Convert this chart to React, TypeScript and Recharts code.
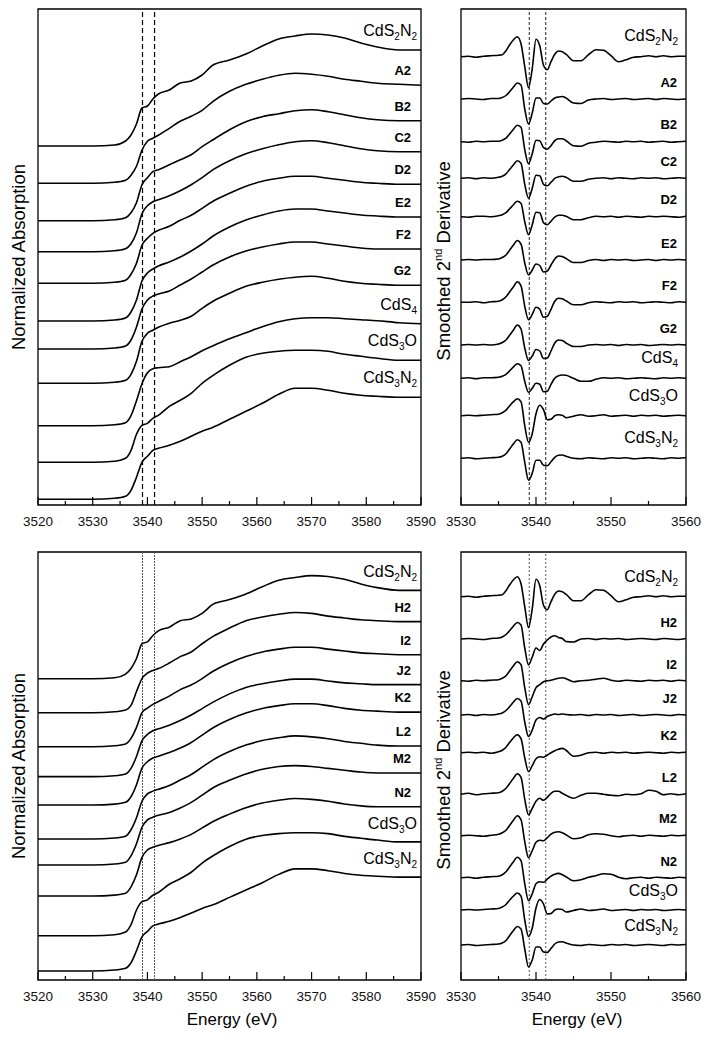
import React from 'react';
import { LineChart, Line, XAxis, YAxis, ReferenceLine, ReferenceArea, ReferenceDot } from 'recharts';

const FONT = '"Liberation Sans", Arial, Helvetica, sans-serif';

// ---- energy grids (eV) ----
const xanesEnergy = [3520, 3530, 3534, 3536, 3537, 3538, 3539, 3540, 3541, 3542, 3544, 3546, 3548, 3550, 3552, 3555, 3558, 3561, 3564, 3567, 3570, 3573, 3576, 3579, 3582, 3586, 3590];
const derivEnergy = [
  3530, 3531, 3532, 3533, 3534, 3535,
  3535.5, 3536, 3536.5, 3537, 3537.5, 3538, 3538.5, 3539, 3539.5, 3540, 3540.5, 3541, 3541.5, 3542, 3542.5, 3543, 3543.5,
  3544, 3545, 3546, 3547, 3548, 3549, 3550, 3551, 3552, 3553, 3554, 3555, 3556, 3557, 3558, 3559, 3560,
];

const xanesTicks = [3520, 3525, 3530, 3535, 3540, 3545, 3550, 3555, 3560, 3565, 3570, 3575, 3580, 3585, 3590];
const derivTicks = [3530, 3535, 3540, 3545, 3550, 3555, 3560];
const markerLines = [3539.1, 3541.3];

// ---- normalized absorption (XANES) ----
const xCdS2N2 = [0, 0, 0.01, 0.05, 0.11, 0.22, 0.38, 0.40, 0.47, 0.52, 0.56, 0.63, 0.65, 0.71, 0.81, 0.86, 0.92, 1.00, 1.07, 1.10, 1.12, 1.11, 1.08, 1.03, 0.99, 0.96, 0.96];
const xA2 = [0, 0, 0.01, 0.03, 0.08, 0.17, 0.33, 0.42, 0.45, 0.48, 0.55, 0.62, 0.67, 0.73, 0.82, 0.92, 0.99, 1.04, 1.08, 1.10, 1.09, 1.07, 1.04, 1.02, 1.00, 0.99, 0.98];
const xB2 = [0, 0, 0.01, 0.03, 0.08, 0.18, 0.36, 0.43, 0.49, 0.51, 0.56, 0.61, 0.66, 0.74, 0.81, 0.91, 0.99, 1.04, 1.07, 1.10, 1.11, 1.09, 1.06, 1.03, 1.01, 1.00, 1.00];
const xC2 = [0, 0, 0.01, 0.03, 0.08, 0.19, 0.38, 0.46, 0.50, 0.52, 0.56, 0.61, 0.67, 0.74, 0.82, 0.91, 0.98, 1.03, 1.07, 1.10, 1.11, 1.09, 1.06, 1.03, 1.01, 1.00, 1.00];
const xD2 = [0, 0, 0.01, 0.03, 0.09, 0.20, 0.38, 0.45, 0.50, 0.53, 0.57, 0.63, 0.68, 0.75, 0.82, 0.90, 0.97, 1.02, 1.05, 1.07, 1.07, 1.05, 1.03, 1.01, 1.00, 0.99, 0.99];
const xE2 = [0, 0, 0.01, 0.03, 0.09, 0.21, 0.40, 0.48, 0.52, 0.55, 0.59, 0.64, 0.70, 0.77, 0.85, 0.94, 1.01, 1.06, 1.10, 1.12, 1.12, 1.10, 1.08, 1.06, 1.05, 1.04, 1.04];
const xF2 = [0, 0, 0.01, 0.03, 0.09, 0.22, 0.40, 0.49, 0.53, 0.55, 0.58, 0.64, 0.70, 0.77, 0.84, 0.92, 0.98, 1.02, 1.05, 1.07, 1.07, 1.05, 1.03, 1.01, 1.00, 1.00, 1.00];
const xG2 = [0, 0, 0.01, 0.03, 0.09, 0.22, 0.42, 0.50, 0.53, 0.56, 0.60, 0.63, 0.67, 0.75, 0.82, 0.90, 0.97, 1.01, 1.04, 1.06, 1.07, 1.05, 1.02, 1.00, 0.99, 0.98, 0.98];
const xCdS4 = [0, 0, 0.01, 0.03, 0.10, 0.25, 0.42, 0.53, 0.57, 0.58, 0.59, 0.64, 0.69, 0.75, 0.80, 0.87, 0.93, 0.99, 1.04, 1.07, 1.08, 1.08, 1.07, 1.06, 1.05, 1.03, 1.02];
const xCdS3O = [0, 0, 0.01, 0.04, 0.12, 0.28, 0.37, 0.39, 0.44, 0.47, 0.56, 0.62, 0.69, 0.79, 0.87, 0.97, 1.05, 1.09, 1.11, 1.12, 1.12, 1.11, 1.08, 1.06, 1.04, 1.02, 1.02];
const xCdS3N2 = [0, 0, 0.01, 0.03, 0.09, 0.22, 0.37, 0.43, 0.49, 0.51, 0.54, 0.58, 0.63, 0.68, 0.72, 0.80, 0.88, 0.96, 1.05, 1.11, 1.11, 1.09, 1.06, 1.04, 1.03, 1.02, 1.02];
const xH2 = [0, 0, 0.01, 0.03, 0.08, 0.23, 0.37, 0.43, 0.46, 0.48, 0.54, 0.61, 0.66, 0.75, 0.83, 0.92, 1.00, 1.04, 1.07, 1.09, 1.08, 1.05, 1.03, 1.01, 1.00, 0.99, 0.99];
const xI2 = [0, 0, 0.01, 0.03, 0.09, 0.21, 0.37, 0.42, 0.46, 0.49, 0.55, 0.62, 0.67, 0.74, 0.82, 0.91, 0.98, 1.03, 1.06, 1.08, 1.08, 1.06, 1.04, 1.02, 1.01, 1.00, 1.00];
const xJ2 = [0, 0, 0.01, 0.03, 0.09, 0.22, 0.39, 0.46, 0.50, 0.52, 0.56, 0.61, 0.67, 0.74, 0.81, 0.90, 0.97, 1.01, 1.04, 1.06, 1.06, 1.04, 1.02, 1.01, 1.00, 1.00, 1.00];
const xK2 = [0, 0, 0.01, 0.03, 0.09, 0.22, 0.40, 0.47, 0.51, 0.53, 0.57, 0.62, 0.68, 0.76, 0.84, 0.93, 1.00, 1.05, 1.08, 1.10, 1.10, 1.08, 1.05, 1.03, 1.02, 1.01, 1.01];
const xL2 = [0, 0, 0.01, 0.03, 0.10, 0.23, 0.41, 0.49, 0.52, 0.54, 0.58, 0.64, 0.70, 0.78, 0.86, 0.95, 1.02, 1.07, 1.10, 1.12, 1.11, 1.09, 1.06, 1.04, 1.02, 1.01, 1.01];
const xM2 = [0, 0, 0.01, 0.03, 0.10, 0.23, 0.41, 0.49, 0.52, 0.54, 0.57, 0.62, 0.68, 0.76, 0.84, 0.92, 0.99, 1.04, 1.07, 1.08, 1.07, 1.05, 1.03, 1.01, 1.00, 1.00, 1.00];
const xN2 = [0, 0, 0.01, 0.03, 0.10, 0.23, 0.42, 0.50, 0.53, 0.55, 0.58, 0.62, 0.67, 0.74, 0.81, 0.89, 0.96, 1.01, 1.04, 1.06, 1.05, 1.03, 1.00, 0.98, 0.97, 0.97, 0.97];

// ---- smoothed 2nd derivative ----
const dCdS2N2 = [0, 0.05, -0.05, 0.05, 0.1, 0.15, 0.2, 0.6, 1.2, 1.7, 2.0, 1.3, -1.0, -3.1, -1.2, 1.75, 1.1, -0.85, -1.3, -0.5, 0.25, 0.57, 0.5, 0.25, -0.4, -0.4, 0.2, 0.7, 0.65, 0.1, -0.5, -0.3, -0.05, 0.0, 0.1, 0.0, 0.1, 0.0, 0.05, 0.05];
const dA2 = [0, 0.05, 0, -0.05, 0.05, 0.05, 0.15, 0.35, 0.75, 1.2, 1.6, 1.4, -1.0, -2.5, -1.4, 0.1, 0.1, -0.45, -0.5, -0.2, 0.1, 0.2, 0.25, 0.1, -0.4, -0.45, -0.1, 0, 0.05, -0.05, 0, 0.05, -0.05, 0, 0.05, -0.05, 0.05, 0, -0.05, 0];
const dB2 = [0, -0.05, 0.05, 0, 0.05, 0.05, 0.15, 0.35, 0.8, 1.25, 1.65, 1.45, -0.8, -2.2, -1.2, 0.15, 0.1, -0.6, -0.75, -0.4, 0.1, 0.3, 0.3, 0.1, -0.4, -0.45, -0.15, -0.05, 0.05, 0, -0.05, 0.05, 0, 0.05, -0.05, 0, 0.05, -0.05, 0, 0.05];
const dC2 = [0, 0.05, -0.05, 0.05, 0, 0.1, 0.2, 0.45, 0.9, 1.35, 1.75, 1.5, -0.6, -2.0, -1.0, 0.3, 0.25, -0.6, -0.75, -0.4, 0.0, 0.15, 0.2, 0.1, -0.3, -0.3, -0.1, 0, 0.05, -0.05, 0.05, 0, -0.05, 0.05, 0, 0.05, -0.05, 0, 0.05, 0];
const dD2 = [0, -0.05, 0.05, 0.05, 0, 0.1, 0.2, 0.4, 0.8, 1.2, 1.55, 1.35, -0.5, -1.8, -0.8, 0.45, 0.4, -0.6, -0.8, -0.45, -0.05, 0.15, 0.15, 0.05, -0.3, -0.3, -0.1, 0.05, 0, 0.05, -0.05, 0.05, 0, -0.05, 0.05, 0, 0.05, 0, -0.05, 0.05];
const dE2 = [0, 0.05, 0, 0.05, 0.05, 0.1, 0.25, 0.5, 1.0, 1.5, 1.95, 1.6, -0.3, -1.5, -1.0, -0.4, -0.55, -1.2, -1.1, -0.5, 0.1, 0.4, 0.35, 0.15, -0.25, -0.25, -0.05, 0.05, -0.05, 0.05, 0, 0.05, -0.05, 0, 0.05, -0.05, 0.05, 0, 0.05, 0];
const dF2 = [0, 0, 0.05, -0.05, 0.05, 0.1, 0.25, 0.55, 1.05, 1.55, 2.05, 1.65, -0.4, -1.75, -1.2, -0.5, -0.7, -1.5, -1.4, -0.7, 0.1, 0.4, 0.35, 0.15, -0.25, -0.25, -0.05, 0.05, 0, -0.05, 0.05, 0, 0.05, -0.05, 0, 0.05, 0, -0.05, 0.05, 0];
const dG2 = [0, 0.05, 0, 0.05, 0, 0.1, 0.25, 0.5, 1.0, 1.5, 2.0, 1.6, -0.3, -1.55, -1.1, -0.45, -0.6, -1.35, -1.3, -0.6, 0.2, 0.5, 0.45, 0.2, -0.15, -0.15, 0, 0.05, 0, 0.05, -0.05, 0.05, 0, 0.05, -0.05, 0, 0.05, 0, 0.05, 0];
const dCdS4 = [0, 0.05, -0.05, 0.05, 0.05, 0.1, 0.2, 0.4, 0.75, 1.15, 1.45, 1.25, -0.3, -1.4, -1.0, -0.5, -0.6, -1.35, -1.3, -0.6, 0.0, 0.25, 0.33, 0.3, 0.0, -0.3, -0.3, -0.1, 0.05, 0, 0.05, -0.05, 0, 0.05, 0, -0.05, 0.05, 0, 0.05, 0];
const dCdS3O = [0, 0.05, 0, 0.05, 0.1, 0.15, 0.3, 0.55, 1.0, 1.4, 1.7, 1.4, -1.0, -2.65, -1.8, 0.2, 1.05, 0.6, -0.4, -0.35, 0.0, 0.1, 0.05, -0.2, -0.05, 0.1, -0.05, 0.0, 0.1, -0.05, 0, 0.05, -0.05, 0.05, 0, 0.05, -0.05, 0, 0.05, 0];
const dCdS3N2 = [0, 0.05, -0.05, 0, 0.05, 0.1, 0.2, 0.45, 0.95, 1.45, 1.85, 1.6, -0.4, -2.2, -1.5, -0.2, -0.2, -0.7, -0.75, -0.35, 0.1, 0.3, 0.33, 0.2, 0.0, -0.05, 0.05, 0, -0.05, 0.05, 0, 0.05, -0.05, 0, 0.05, 0, -0.05, 0.05, 0, 0.05];
const dH2 = [0, 0.05, 0, -0.05, 0.05, 0.1, 0.2, 0.45, 0.85, 1.3, 1.65, 1.4, -0.9, -2.6, -1.8, -0.9, -1.15, -0.5, -0.1, 0.2, 0.33, 0.15, 0.05, -0.25, -0.3, 0.0, 0.05, -0.05, 0.05, 0, 0.05, -0.05, 0, 0.05, 0, -0.05, 0.05, 0, -0.05, 0.05];
const dI2 = [0, -0.05, 0.05, 0, 0.05, 0.1, 0.25, 0.5, 1.0, 1.5, 1.9, 1.6, -0.7, -2.4, -1.6, -0.7, -0.4, -0.1, 0.0, 0.05, 0.15, 0.25, 0.3, 0.2, -0.1, 0.0, 0.05, 0.15, 0.25, 0.05, -0.05, 0.05, 0, -0.05, 0.05, 0, 0.05, -0.05, 0.05, 0];
const dJ2 = [0, 0.05, -0.05, 0.05, 0, 0.1, 0.2, 0.45, 0.85, 1.3, 1.65, 1.4, -0.7, -2.15, -1.5, -0.5, -0.25, -0.4, -0.15, 0.0, 0.1, 0.05, 0.1, 0.05, 0.0, 0.05, -0.05, 0.05, 0, 0.05, -0.05, 0, 0.05, -0.05, 0, 0.05, 0, -0.05, 0.05, 0];
const dK2 = [0, 0.05, 0, 0.05, -0.05, 0.1, 0.25, 0.55, 1.05, 1.5, 1.8, 1.4, -0.5, -1.9, -1.3, -0.6, -0.4, -0.45, -0.25, 0.0, 0.2, 0.35, 0.43, 0.25, -0.35, -0.25, 0.0, 0.05, -0.05, 0.05, 0, 0.05, -0.05, 0, 0.05, 0, -0.05, 0.05, 0, 0.05];
const dL2 = [0, 0.1, -0.05, 0.05, 0.1, 0.15, 0.3, 0.6, 1.1, 1.6, 2.05, 1.7, -0.5, -2.05, -1.4, -0.7, -0.4, -0.6, -0.3, 0.1, 0.3, 0.3, 0.1, -0.1, -0.4, -0.1, 0.1, 0.1, 0.0, -0.1, -0.15, 0.0, -0.05, 0.05, 0.4, 0.3, -0.05, 0.05, -0.05, 0.05];
const dM2 = [0, 0.05, 0, -0.05, 0.05, 0.15, 0.3, 0.55, 1.05, 1.55, 2.0, 1.6, -0.6, -2.2, -1.5, -0.65, -0.45, -0.5, -0.2, 0.15, 0.35, 0.4, 0.3, 0.1, -0.3, -0.2, 0.1, 0.2, 0.15, 0.0, -0.1, 0.0, 0.05, -0.05, 0.05, 0, -0.05, 0.05, 0, 0.05];
const dN2 = [0, 0.05, -0.05, 0.05, 0.1, 0.15, 0.3, 0.6, 1.1, 1.6, 2.05, 1.7, -0.6, -2.3, -1.6, -0.6, -0.4, -0.45, -0.15, 0.15, 0.35, 0.43, 0.3, 0.1, -0.3, -0.2, 0.05, 0.2, 0.4, 0.35, 0.05, -0.1, 0.0, 0.05, -0.05, 0.05, 0, -0.05, 0.05, 0];

// ---- stacking (labels top to bottom) and vertical offsets ----
const topLabels = ['CdS2N2', 'A2', 'B2', 'C2', 'D2', 'E2', 'F2', 'G2', 'CdS4', 'CdS3O', 'CdS3N2'];
const bottomLabels = ['CdS2N2', 'H2', 'I2', 'J2', 'K2', 'L2', 'M2', 'N2', 'CdS3O', 'CdS3N2'];

const topXanes = [xCdS2N2, xA2, xB2, xC2, xD2, xE2, xF2, xG2, xCdS4, xCdS3O, xCdS3N2];
const topDeriv = [dCdS2N2, dA2, dB2, dC2, dD2, dE2, dF2, dG2, dCdS4, dCdS3O, dCdS3N2];
const bottomXanes = [xCdS2N2, xH2, xI2, xJ2, xK2, xL2, xM2, xN2, xCdS3O, xCdS3N2];
const bottomDeriv = [dCdS2N2, dH2, dI2, dJ2, dK2, dL2, dM2, dN2, dCdS3O, dCdS3N2];

const topXanesOffsets = [3.59, 3.217, 2.843, 2.533, 2.217, 1.84, 1.56, 1.217, 0.793, 0.427, 0.057];
const topDerivOffsets = [44.83, 40.6, 36.33, 32.67, 28.83, 24.5, 20.27, 16.0, 12.67, 8.93, 4.67];
const bottomXanesOffsets = [3.275, 2.905, 2.536, 2.21, 1.902, 1.533, 1.25, 0.913, 0.481, 0.098];
const bottomDerivOffsets = [38.33, 34.1, 29.93, 26.5, 22.73, 18.57, 14.43, 10.23, 7.0, 3.5];

const AXIS_H = 30;

function buildRows(energy: number[], series: number[][], offsets: number[]) {
  return energy.map((E, j) => {
    const row: Record<string, number> = { E };
    series.forEach((s, i) => {
      row['s' + i] = +(s[j] + offsets[i]).toFixed(4);
    });
    return row;
  });
}

function CurveLabel({ x, y, text }: { x: number; y: number; text: string }) {
  if (!text.startsWith('CdS')) {
    return (
      <text x={x} y={y} textAnchor="end" fontFamily={FONT} fontWeight="bold" fontSize={13} fill="#000">
        {text}
      </text>
    );
  }
  const parts = text.match(/[A-Za-z]+|\d+/g) || [];
  let shifted = false;
  return (
    <text x={x} y={y} textAnchor="end" fontFamily={FONT} fontSize={16} fill="#000">
      {parts.map((p, k) => {
        if (/\d/.test(p)) {
          shifted = true;
          return <tspan key={k} fontSize={10} dy={4}>{p}</tspan>;
        }
        const dy = shifted ? -4 : 0;
        shifted = false;
        return <tspan key={k} dy={dy}>{p}</tspan>;
      })}
    </text>
  );
}

const AxisTick = (props: any) => {
  const { x, y, payload } = props;
  const major = payload.value % 10 === 0;
  return (
    <g>
      <line x1={x} x2={x} y1={y} y2={y - (major ? 8 : 4)} stroke="#000" strokeWidth={1.2} />
      {major && (
        <text x={x} y={y + 21} textAnchor="middle" fontFamily={FONT} fontSize={13.5} fill="#111">
          {payload.value}
        </text>
      )}
    </g>
  );
};

type PanelProps = {
  left: number;
  top: number;
  width: number;
  height: number;
  margin: { top: number; right: number; bottom: number; left: number };
  energy: number[];
  ticks: number[];
  yMax: number;
  series: number[][];
  offsets: number[];
  labels: string[];
  dash: string;
  dashColor: string;
  dashWidth: number;
  gapBold: number;
  gapRef: number;
  padBold: number;
  padRef: number;
};

function Panel(p: PanelProps) {
  const rows = buildRows(p.energy, p.series, p.offsets);
  const xMin = p.energy[0];
  const xMax = p.energy[p.energy.length - 1];
  const plotH = p.height - p.margin.top - p.margin.bottom - AXIS_H;
  const pxPerUnit = plotH / p.yMax;
  return (
    <div style={{ position: 'absolute', left: p.left, top: p.top }}>
      <LineChart width={p.width} height={p.height} data={rows} margin={p.margin}>
        <XAxis
          dataKey="E"
          type="number"
          domain={[xMin, xMax]}
          ticks={p.ticks}
          interval={0}
          allowDataOverflow
          axisLine={false}
          tickLine={false}
          tickSize={0}
          tickMargin={0}
          height={AXIS_H}
          tick={AxisTick}
        />
        <YAxis type="number" domain={[0, p.yMax]} hide allowDataOverflow />
        <ReferenceArea x1={xMin} x2={xMax} y1={0} y2={p.yMax} fill="none" stroke="#000" strokeWidth={1.3} ifOverflow="visible" />
        {markerLines.map((e) => (
          <ReferenceLine key={e} x={e} stroke={p.dashColor} strokeWidth={p.dashWidth} strokeDasharray={p.dash} />
        ))}
        {p.series.map((_, i) => (
          <Line
            key={i}
            dataKey={'s' + i}
            type="monotone"
            stroke="#000"
            strokeWidth={1.6}
            dot={false}
            isAnimationActive={false}
          />
        ))}
        {p.labels.map((lab, i) => {
          const isRef = lab.startsWith('CdS');
          const s = p.series[i];
          const yv = p.offsets[i] + s[s.length - 1] + (isRef ? p.gapRef : p.gapBold) / pxPerUnit;
          return (
            <ReferenceDot
              key={lab + i}
              x={xMax}
              y={yv}
              r={0}
              ifOverflow="visible"
              shape={(d: any) => <CurveLabel x={d.cx - (isRef ? p.padRef : p.padBold)} y={d.cy} text={lab} />}
            />
          );
        })}
      </LineChart>
    </div>
  );
}

function SmoothedTitle({ x, y }: { x: number; y: number }) {
  return (
    <text x={x} y={y} transform={`rotate(-90 ${x} ${y})`} textAnchor="middle" fontFamily={FONT} fontSize={18.5} fill="#000">
      Smoothed 2<tspan fontSize={11} dy={-8}>nd</tspan>
      <tspan dy={8}> Derivative</tspan>
    </text>
  );
}

export default function App() {
  return (
    <div style={{ position: 'absolute', left: 0, top: 0, width: 713, height: 1040, background: '#fff' }}>
      <Panel
        left={0} top={0} width={450} height={540}
        margin={{ top: 9, right: 29, bottom: 5, left: 38 }}
        energy={xanesEnergy} ticks={xanesTicks} yMax={4.96}
        series={topXanes} offsets={topXanesOffsets} labels={topLabels}
        dash="5 3" dashColor="#000" dashWidth={1.2}
        gapBold={10} gapRef={14} padBold={10} padRef={4}
      />
      <Panel
        left={430} top={0} width={283} height={540}
        margin={{ top: 9, right: 27, bottom: 5, left: 31 }}
        energy={derivEnergy} ticks={derivTicks} yMax={49.6}
        series={topDeriv} offsets={topDerivOffsets} labels={topLabels}
        dash="3 2" dashColor="#222" dashWidth={1}
        gapBold={12} gapRef={15} padBold={9} padRef={8}
      />
      <Panel
        left={0} top={530} width={450} height={500}
        margin={{ top: 22, right: 29, bottom: 20, left: 38 }}
        energy={xanesEnergy} ticks={xanesTicks} yMax={4.652}
        series={bottomXanes} offsets={bottomXanesOffsets} labels={bottomLabels}
        dash="2 1" dashColor="#555" dashWidth={1}
        gapBold={10} gapRef={13} padBold={10} padRef={4}
      />
      <Panel
        left={430} top={530} width={283} height={500}
        margin={{ top: 22, right: 27, bottom: 20, left: 31 }}
        energy={derivEnergy} ticks={derivTicks} yMax={42.8}
        series={bottomDeriv} offsets={bottomDerivOffsets} labels={bottomLabels}
        dash="2 2" dashColor="#555" dashWidth={1}
        gapBold={12} gapRef={14} padBold={9} padRef={8}
      />
      <svg width={713} height={1040} style={{ position: 'absolute', left: 0, top: 0, pointerEvents: 'none' }}>
        <text x={25} y={257} transform="rotate(-90 25 257)" textAnchor="middle" fontFamily={FONT} fontSize={18.5} fill="#000">
          Normalized Absorption
        </text>
        <text x={25} y={766} transform="rotate(-90 25 766)" textAnchor="middle" fontFamily={FONT} fontSize={18.5} fill="#000">
          Normalized Absorption
        </text>
        <SmoothedTitle x={450} y={261} />
        <SmoothedTitle x={450} y={770} />
        <text x={232} y={1025} textAnchor="middle" fontFamily={FONT} fontSize={17} fill="#000">Energy (eV)</text>
        <text x={577} y={1025} textAnchor="middle" fontFamily={FONT} fontSize={17} fill="#000">Energy (eV)</text>
      </svg>
    </div>
  );
}
